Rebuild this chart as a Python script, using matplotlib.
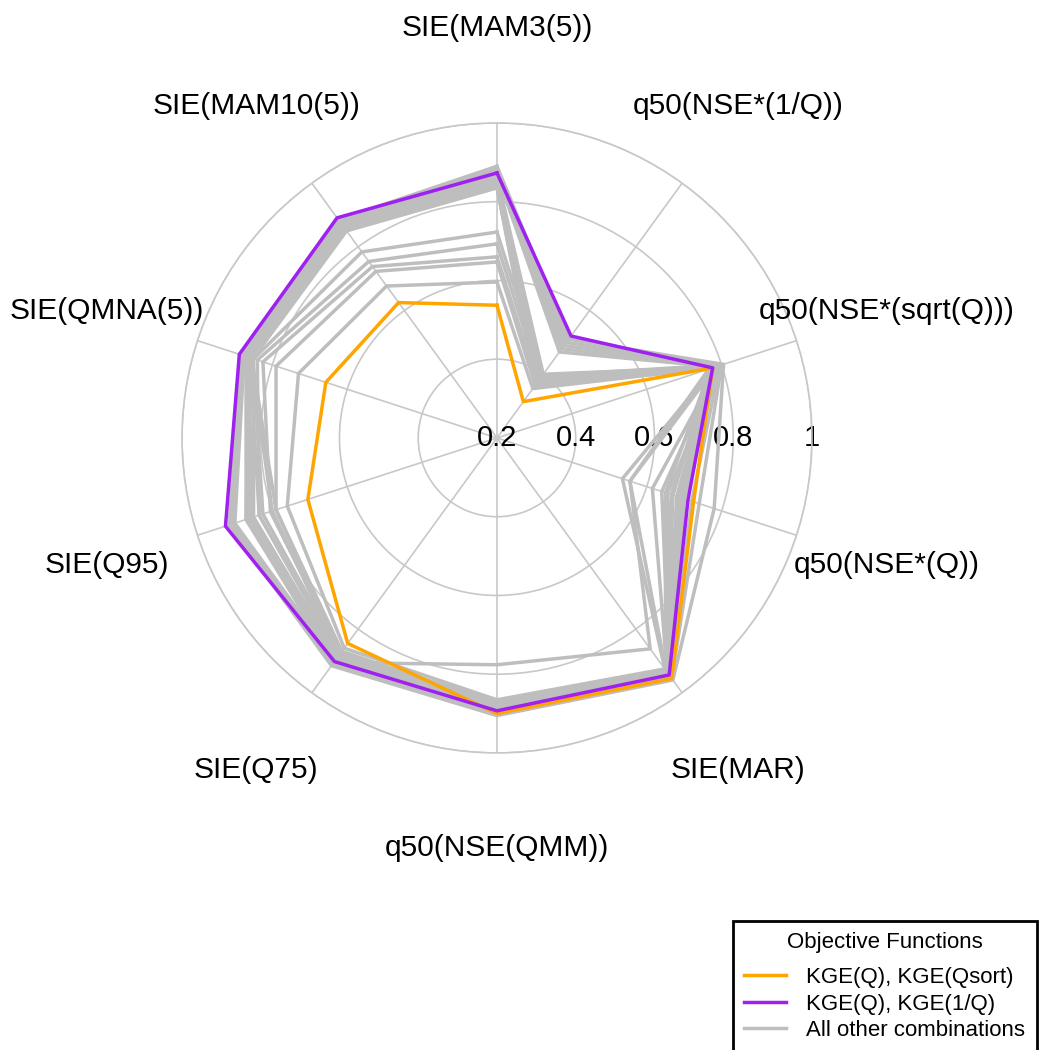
import numpy as np
import matplotlib.pyplot as plt
from matplotlib.lines import Line2D

plt.rcParams['font.family'] = ['Liberation Sans', 'DejaVu Sans']

axis_labels = ["SIE(MAM3(5))", "q50(NSE*(1/Q))", "q50(NSE*(sqrt(Q)))", "q50(NSE*(Q))",
               "SIE(MAR)", "q50(NSE(QMM))", "SIE(Q75)", "SIE(Q95)", "SIE(QMNA(5))",
               "SIE(MAM10(5))"]
r_ticks = [0.2, 0.4, 0.6, 0.8, 1.0]
r_tick_labels = ["0.2", "0.4", "0.6", "0.8", "1"]

orange_vals = [0.537, 0.314, 0.776, 0.725, 0.955, 0.900, 0.845, 0.705, 0.657, 0.625]
purple_vals = [0.873, 0.520, 0.776, 0.710, 0.944, 0.893, 0.902, 0.925, 0.888, 0.891]

# all other combinations
gray_vals = [
    [0.723, 0.395, 0.800, 0.655, 0.940, 0.880, 0.890, 0.850, 0.850, 0.784],
    [0.693, 0.385, 0.790, 0.640, 0.945, 0.885, 0.880, 0.835, 0.840, 0.754],
    [0.660, 0.375, 0.795, 0.615, 0.935, 0.870, 0.875, 0.805, 0.825, 0.738],
    [0.647, 0.365, 0.785, 0.555, 0.930, 0.875, 0.870, 0.790, 0.790, 0.723],
    [0.596, 0.355, 0.780, 0.535, 0.925, 0.865, 0.860, 0.760, 0.730, 0.677],
    [0.890, 0.510, 0.805, 0.780, 0.960, 0.905, 0.915, 0.915, 0.885, 0.885],
    [0.885, 0.500, 0.800, 0.740, 0.955, 0.900, 0.910, 0.910, 0.880, 0.880],
    [0.880, 0.490, 0.795, 0.720, 0.950, 0.895, 0.905, 0.905, 0.878, 0.875],
    [0.875, 0.480, 0.790, 0.700, 0.948, 0.890, 0.900, 0.900, 0.875, 0.870],
    [0.870, 0.470, 0.785, 0.700, 0.945, 0.888, 0.898, 0.870, 0.870, 0.868],
    [0.865, 0.400, 0.780, 0.695, 0.942, 0.885, 0.895, 0.865, 0.868, 0.865],
    [0.860, 0.395, 0.790, 0.690, 0.940, 0.882, 0.890, 0.860, 0.865, 0.862],
    [0.855, 0.390, 0.785, 0.685, 0.938, 0.880, 0.888, 0.855, 0.862, 0.860],
    [0.850, 0.385, 0.775, 0.680, 0.935, 0.878, 0.885, 0.835, 0.860, 0.858],
    [0.845, 0.380, 0.770, 0.670, 0.932, 0.875, 0.882, 0.800, 0.858, 0.855],
    [0.840, 0.375, 0.775, 0.665, 0.930, 0.872, 0.880, 0.790, 0.855, 0.852],
    [0.835, 0.370, 0.770, 0.650, 0.928, 0.870, 0.878, 0.825, 0.852, 0.850],
    [0.838, 0.365, 0.765, 0.555, 0.862, 0.776, 0.905, 0.870, 0.860, 0.855],
]

grid_col = '#c8c8c8'
n = len(axis_labels)
theta = np.linspace(0, 2 * np.pi, n, endpoint=False)
theta_closed = np.append(theta, theta[0])

def closed(v):
    return np.append(v, v[0])

fig = plt.figure(figsize=(10.41, 10.5), dpi=100)
ax = fig.add_axes([0.1748, 0.2829, 0.6052, 0.6], projection='polar')
ax.set_theta_zero_location('N')
ax.set_theta_direction(-1)
ax.set_ylim(0.2, 1.0)
ax.set_thetagrids(np.degrees(theta), [''] * n)
ax.set_rgrids([0.4, 0.6, 0.8, 1.0], [''] * 4)
ax.grid(True, color=grid_col, lw=1.2)
ax.spines['polar'].set_color(grid_col)
ax.spines['polar'].set_linewidth(1.2)
ax.tick_params(length=0)

for g in gray_vals:
    ax.plot(theta_closed, closed(g), color='#bebebe', lw=2.5, zorder=3)
ax.plot(theta_closed, closed(orange_vals), color='#FFA500', lw=2.5, zorder=4)
ax.plot(theta_closed, closed(purple_vals), color='#A020F0', lw=2.5, zorder=5)

for r, lab in zip(r_ticks, r_tick_labels):
    ax.text(np.pi / 2, r, lab, ha='center', va='center', fontsize=21, zorder=2)

for t, lab in zip(theta, axis_labels):
    ax.text(t, 1.241, lab, ha='center', va='center', fontsize=21.5, clip_on=False)

handles = [Line2D([], [], color='#FFA500', lw=2.5),
           Line2D([], [], color='#A020F0', lw=2.5),
           Line2D([], [], color='#bebebe', lw=2.5)]
labels = ["KGE(Q), KGE(Qsort)", "KGE(Q), KGE(1/Q)", "All other combinations"]
leg = fig.legend(handles, labels, title="Objective Functions", loc='upper left',
                 bbox_to_anchor=(722 / 1041, 1 - 910 / 1050), fontsize=16,
                 title_fontsize=16, frameon=True, fancybox=False, framealpha=1,
                 edgecolor='black', handlelength=1.9, labelspacing=0.25,
                 borderpad=0.5, handletextpad=0.9)
leg.get_frame().set_linewidth(2)
leg._legend_box.sep = 10

fig.savefig('out.png', dpi=100)
